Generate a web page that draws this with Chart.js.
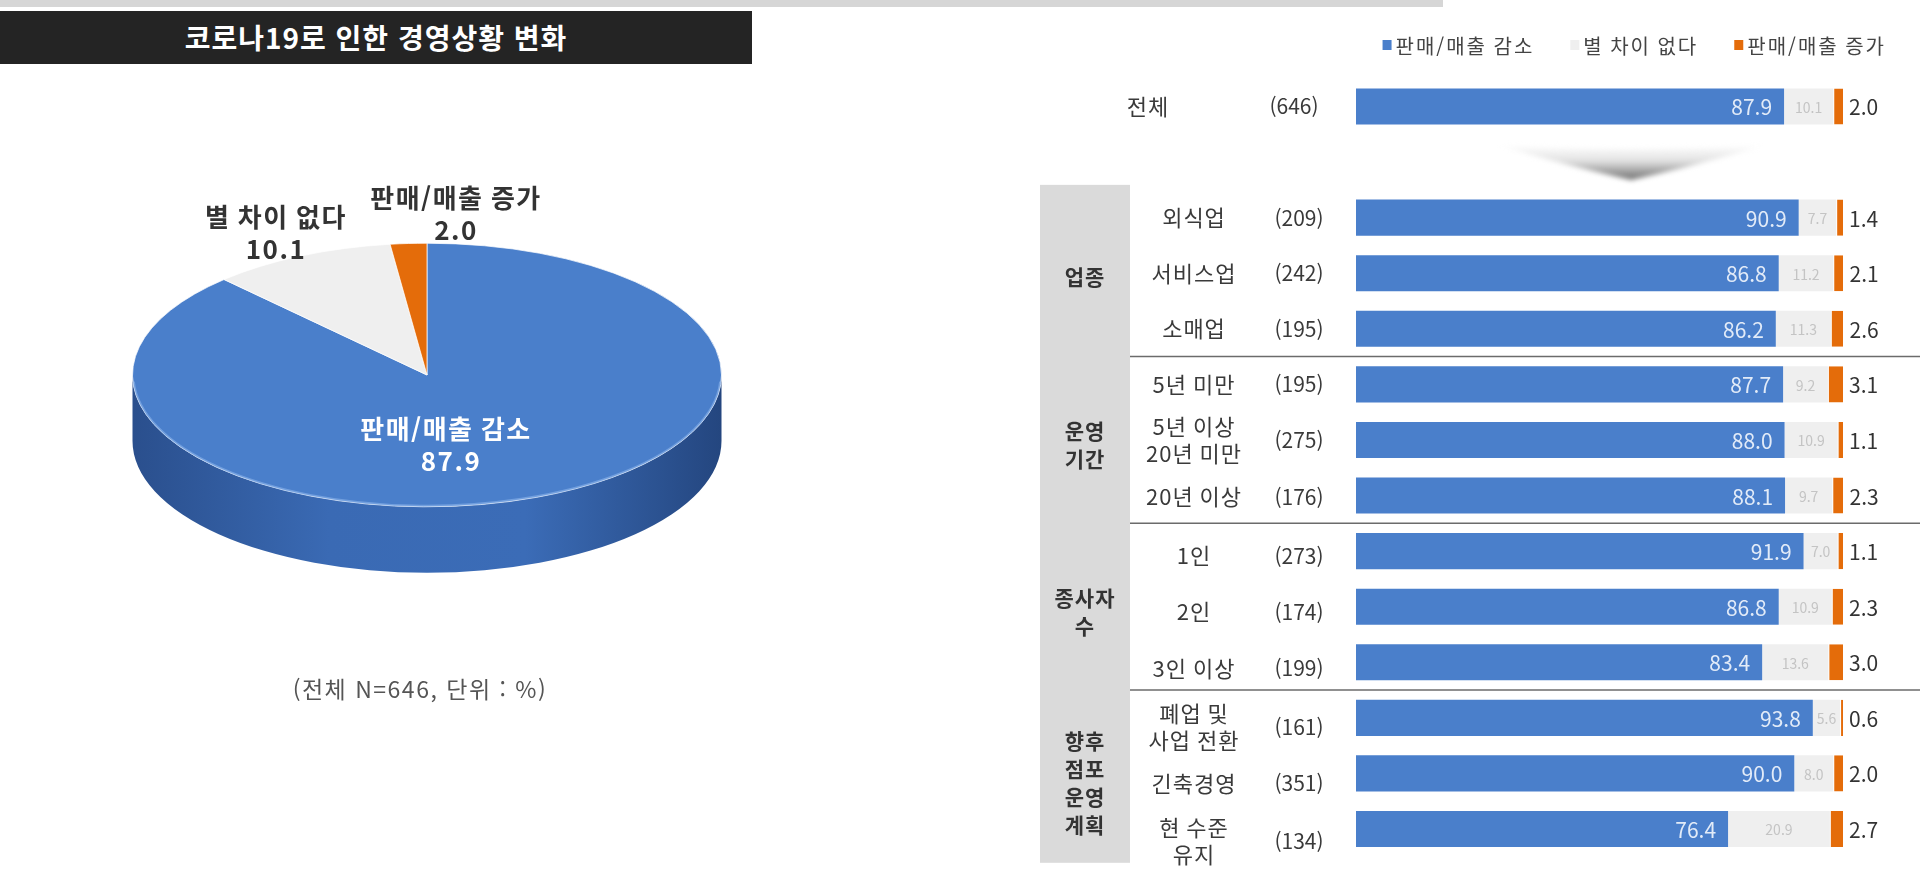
<!DOCTYPE html>
<html lang="ko">
<head>
<meta charset="utf-8">
<title>코로나19로 인한 경영상황 변화</title>
<script src="https://cdn.jsdelivr.net/npm/chart.js@4.4.1/dist/chart.umd.min.js"></script>
<style>
  html, body { margin: 0; padding: 0; background: #fff; }
  body { width: 1920px; height: 871px; position: relative; overflow: hidden; font-family: "Noto Sans CJK KR", "Noto Sans", sans-serif; }
  .top-strip { position: absolute; left: 0; top: 0; width: 1443px; height: 7px; background: #d6d6d6; }
  .title-bar { position: absolute; left: 0; top: 11px; width: 752px; height: 53px; background: #242424; color: #fff; font-weight: 700; font-size: 28px; line-height: 53px; text-align: center; letter-spacing: 1px; }
  #pieChart { position: absolute; left: 0; top: 64px; }
  .pie-note { position: absolute; left: 170px; width: 500px; top: 671px; text-align: center; font-size: 23px; letter-spacing: 1.5px; color: #555; }
  #barChart { position: absolute; left: 1000px; top: 0; }
</style>
</head>
<body>
<div class="top-strip"></div>
<div class="title-bar">코로나19로 인한 경영상황 변화</div>
<canvas id="pieChart" width="860" height="620"></canvas>
<div class="pie-note">(전체 N=646, 단위 : %)</div>
<canvas id="barChart" width="920" height="871"></canvas>

<script>
// 전체 응답 비율
const pieLabels = ['판매/매출 감소', '별 차이 없다', '판매/매출 증가'];
const pieValues = [87.9, 10.1, 2.0];

// 특성별 응답 (두 번째 줄은 화살표 자리)
const rowLabels = ['전체', '', '외식업', '서비스업', '소매업', '5년 미만', '5년 이상\n20년 미만', '20년 이상',
                   '1인', '2인', '3인 이상', '폐업 및\n사업 전환', '긴축경영', '현 수준\n유지'];
const rowCounts = ['646', '', '209', '242', '195', '195', '275', '176', '273', '174', '199', '161', '351', '134'];
const decreaseValues = [87.9, null, 90.9, 86.8, 86.2, 87.7, 88.0, 88.1, 91.9, 86.8, 83.4, 93.8, 90.0, 76.4];
const noChangeValues = [10.1, null, 7.7, 11.2, 11.3, 9.2, 10.9, 9.7, 7.0, 10.9, 13.6, 5.6, 8.0, 20.9];
const increaseValues = [2.0, null, 1.4, 2.1, 2.6, 3.1, 1.1, 2.3, 1.1, 2.3, 3.0, 0.6, 2.0, 2.7];

const groupNames = ['업종', '운영\n기간', '종사자\n수', '향후\n점포\n운영\n계획'];
const groupRows = [[2, 4], [5, 7], [8, 10], [11, 13]];

const BLUE = '#4a7fcb';
const LIGHT = '#efefef';
const ORANGE = '#e46c0a';
const FONT = '"Noto Sans CJK KR", "Noto Sans", sans-serif';

// ---- pie (3D look) ----
const PIE_TILT = 132 / 295;
const PIE_DEPTH = 66;
const sideShades = [
  ['#2a4f8d', '#3a6ab4', '#3b6cb7', '#24467f'],
  ['#bdbdbd', '#d4d4d4', '#bdbdbd'],
  ['#9c4a06', '#b8590a', '#9c4a06']
];
const pieLabelPos = [[24, 70], [-151, -142], [29, -161]];
const pieLabelColors = ['#ffffff', '#333333', '#333333'];

const pie3d = {
  id: 'pie3d',
  beforeDatasetsDraw(chart) {
    const ctx = chart.ctx;
    const arcs = chart.getDatasetMeta(0).data;
    const cx = arcs[0].x, cy = arcs[0].y, r = arcs[0].outerRadius;
    const ry = r * PIE_TILT;
    ctx.save();
    arcs.forEach((arc, i) => {
      const a1 = Math.max(arc.startAngle, 0);
      const a2 = Math.min(arc.endAngle, Math.PI);
      if (a2 <= a1) return;
      const g = ctx.createLinearGradient(cx - r, 0, cx + r, 0);
      sideShades[i].forEach((c, k, arr) => g.addColorStop(k / (arr.length - 1), c));
      ctx.beginPath();
      ctx.ellipse(cx, cy, r, ry, 0, a1, a2);
      ctx.ellipse(cx, cy + PIE_DEPTH, r, ry, 0, a2, a1, true);
      ctx.closePath();
      ctx.fillStyle = g;
      ctx.fill();
    });
    // squash the top face
    ctx.translate(cx, cy);
    ctx.scale(1, PIE_TILT);
    ctx.translate(-cx, -cy);
  },
  afterDatasetsDraw(chart) {
    const ctx = chart.ctx;
    ctx.restore();
    const arcs = chart.getDatasetMeta(0).data;
    const cx = arcs[0].x, cy = arcs[0].y, r = arcs[0].outerRadius;
    ctx.save();
    // rim highlight
    ctx.beginPath();
    ctx.ellipse(cx, cy, r - 1, r * PIE_TILT - 1, 0, 0.05, Math.PI - 0.05);
    ctx.strokeStyle = 'rgba(140, 180, 235, 0.6)';
    ctx.lineWidth = 2;
    ctx.stroke();
    // labels
    ctx.font = 'bold 26px ' + FONT;
    ctx.letterSpacing = '1.5px';
    ctx.textAlign = 'center';
    ctx.textBaseline = 'middle';
    chart.data.labels.forEach((lab, i) => {
      const lx = cx + pieLabelPos[i][0];
      const ly = cy + pieLabelPos[i][1];
      ctx.fillStyle = pieLabelColors[i];
      ctx.fillText(lab, lx - (i === 0 ? 5 : 0), ly - 16);
      ctx.fillText(pieValues[i].toFixed(1), lx, ly + 16);
    });
    ctx.restore();
  }
};

new Chart(document.getElementById('pieChart'), {
  type: 'pie',
  data: {
    labels: pieLabels,
    datasets: [{
      data: pieValues,
      backgroundColor: [BLUE, LIGHT, ORANGE],
      borderColor: '#ffffff',
      borderWidth: 1,
      clip: false
    }]
  },
  options: {
    responsive: false,
    animation: false,
    layout: { padding: { left: 132, right: 138, top: 16, bottom: 14 } },
    plugins: { legend: { display: false }, tooltip: { enabled: false } }
  },
  plugins: [pie3d]
});

// ---- stacked bars ----
const rowLabelShift = [0, 0, 0, 0, 0, 0, 0, 1, 5, 5, 6, 9, 10, 12];
const groupLabelShift = [4, 5, 5, 10];
const LEGEND_RIGHT = 886;
const LEGEND_Y = 45;

function drawLines(ctx, text, x, y, lh) {
  const lines = text.split('\n');
  lines.forEach((ln, k) => ctx.fillText(ln, x, y + (k - (lines.length - 1) / 2) * lh));
}

const barDecor = {
  id: 'barDecor',
  beforeDatasetsDraw(chart) {
    const {ctx, scales: {x, y}} = chart;
    const half = (y.getPixelForValue(1) - y.getPixelForValue(0)) / 2;
    ctx.save();
    // group label panel
    const boxTop = y.getPixelForValue(groupRows[0][0]) - half - 5;
    const boxBottom = y.getPixelForValue(groupRows[groupRows.length - 1][1]) + half + 6;
    ctx.fillStyle = '#dadada';
    ctx.fillRect(40, boxTop, 90, boxBottom - boxTop);
    // group separators
    ctx.strokeStyle = '#6b6b6b';
    ctx.lineWidth = 1.5;
    groupRows.slice(1).forEach(([s]) => {
      const yy = (y.getPixelForValue(s - 1) + y.getPixelForValue(s)) / 2;
      ctx.beginPath();
      ctx.moveTo(130, yy);
      ctx.lineTo(chart.width, yy);
      ctx.stroke();
    });
    // arrow in the empty row
    const ay = y.getPixelForValue(1);
    const L = x.getPixelForValue(29), R = x.getPixelForValue(84), M = (L + R) / 2;
    const top = ay - 17, tip = ay + 18;
    const g = ctx.createLinearGradient(0, top, 0, tip);
    g.addColorStop(0, '#ffffff');
    g.addColorStop(0.45, '#e2e2e2');
    g.addColorStop(1, '#6e6e6e');
    ctx.filter = 'blur(2.5px)';
    ctx.beginPath();
    ctx.moveTo(L, top);
    ctx.quadraticCurveTo(M, top + 8, R, top);
    ctx.quadraticCurveTo(M + 60, top + 22, M, tip);
    ctx.quadraticCurveTo(M - 60, top + 22, L, top);
    ctx.closePath();
    ctx.fillStyle = g;
    ctx.fill();
    ctx.filter = 'none';
    ctx.restore();
  },
  afterDatasetsDraw(chart) {
    const ctx = chart.ctx;
    ctx.save();
    ctx.textBaseline = 'middle';
    chart.data.datasets.forEach((ds, i) => {
      chart.getDatasetMeta(i).data.forEach((bar, j) => {
        const v = ds.data[j];
        if (v == null) return;
        const p = bar.getProps(['x', 'y', 'base'], true);
        const txt = v.toFixed(1);
        if (i === 0) {
          ctx.font = '21px ' + FONT;
          ctx.fillStyle = '#e2ebf8';
          ctx.textAlign = 'right';
          ctx.fillText(txt, p.x - 12, p.y + 1);
        } else if (i === 1) {
          ctx.font = '14px ' + FONT;
          ctx.fillStyle = '#c4c4c4';
          ctx.textAlign = 'center';
          ctx.fillText(txt, (p.base + p.x) / 2, p.y + 1);
        } else {
          ctx.font = '21px ' + FONT;
          ctx.fillStyle = '#333333';
          ctx.textAlign = 'left';
          ctx.fillText(txt, p.x + 6, p.y + 1);
        }
      });
    });
    ctx.restore();
  },
  afterDraw(chart) {
    const {ctx, scales: {y}} = chart;
    ctx.save();
    ctx.textAlign = 'center';
    ctx.textBaseline = 'middle';
    // row labels and sample sizes
    ctx.fillStyle = '#3a3a3a';
    rowLabels.forEach((lab, j) => {
      if (!lab) return;
      const yy = y.getPixelForValue(j) + rowLabelShift[j];
      ctx.font = '22px ' + FONT;
      ctx.letterSpacing = '1px';
      drawLines(ctx, lab, j === 0 ? 148 : 194, yy, 27);
      ctx.font = '21px ' + FONT;
      ctx.letterSpacing = '0px';
      ctx.fillText('(' + rowCounts[j] + ')', j === 0 ? 294 : 299, yy);
    });
    // group names
    ctx.font = 'bold 21px ' + FONT;
    ctx.letterSpacing = '1px';
    ctx.fillStyle = '#333333';
    groupNames.forEach((g, k) => {
      const mid = (groupRows[k][0] + groupRows[k][1]) / 2;
      drawLines(ctx, g, 85, y.getPixelForValue(mid) + groupLabelShift[k], 28);
    });
    // legend
    ctx.font = '20px ' + FONT;
    ctx.letterSpacing = '2px';
    ctx.textAlign = 'left';
    const items = chart.data.datasets.map(ds => ({
      text: ds.label, color: ds.backgroundColor, w: 13 + ctx.measureText(ds.label).width
    }));
    let lx = LEGEND_RIGHT - items.reduce((s, it) => s + it.w, 0) - 36 * (items.length - 1);
    items.forEach(it => {
      ctx.fillStyle = it.color;
      ctx.fillRect(lx, LEGEND_Y - 5, 9, 10);
      ctx.fillStyle = '#444444';
      ctx.fillText(it.text, lx + 13, LEGEND_Y + 1);
      lx += it.w + 36;
    });
    ctx.restore();
  }
};

new Chart(document.getElementById('barChart'), {
  type: 'bar',
  data: {
    labels: rowLabels,
    datasets: [
      { label: '판매/매출 감소', data: decreaseValues, backgroundColor: BLUE },
      { label: '별 차이 없다', data: noChangeValues, backgroundColor: LIGHT },
      { label: '판매/매출 증가', data: increaseValues, backgroundColor: ORANGE,
        borderColor: '#ffffff', borderWidth: { left: 1, right: 0, top: 0, bottom: 0 }, borderSkipped: false }
    ]
  },
  options: {
    indexAxis: 'y',
    responsive: false,
    animation: false,
    datasets: { bar: { barPercentage: 0.65, categoryPercentage: 1 } },
    layout: { padding: { left: 356, right: 77, top: 78.7, bottom: 14.2 } },
    scales: {
      x: { stacked: true, min: 0, max: 100, display: false },
      y: { stacked: true, display: false }
    },
    plugins: { legend: { display: false }, tooltip: { enabled: false } }
  },
  plugins: [barDecor]
});
</script>
</body>
</html>
